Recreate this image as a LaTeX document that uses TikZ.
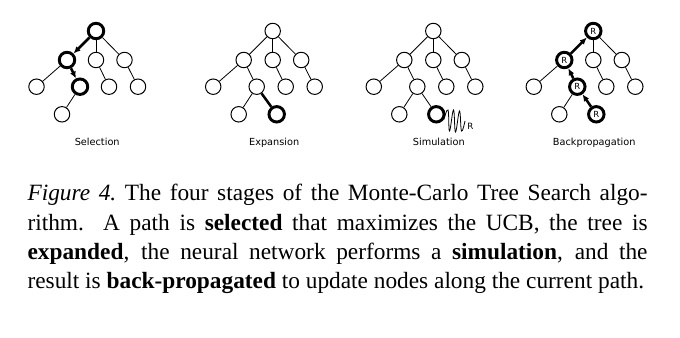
\documentclass[tikz,border=0pt]{standalone}
\usepackage{fontspec}
\setmainfont{Liberation Serif}
\newfontfamily\lblfont{DejaVu Sans}
\usetikzlibrary{arrows.meta}
\begin{document}
\begin{tikzpicture}[x=0.75pt,y=-0.75pt,
  tn/.style={circle,draw,line width=0.75pt,minimum size=11.6pt,inner sep=0pt,font=\lblfont\fontsize{6.3}{6.3}\selectfont},
  tk/.style={tn,line width=2.2pt},
  te/.style={line width=0.6pt},
  tke/.style={line width=1.9pt},
  tka/.style={tke,-{Latex[length=5.2pt,width=4.6pt]}},
  lbl/.style={font=\lblfont\fontsize{7.3}{8}\selectfont,anchor=base,inner sep=0pt},
  capl/.style={anchor=base west,inner sep=0pt,font=\fontsize{17.5}{21}\selectfont}
]
\useasboundingbox (0,0) rectangle (680,338);

% ---------- Selection ----------
\begin{scope}[shift={(96,0)}]
\node[tk] (s1r) at (0,31) {};
\node[tk] (s1a) at (-29,60) {};
\node[tn] (s1b) at (0,60) {};
\node[tn] (s1c) at (28.5,60) {};
\node[tn] (s1a1) at (-59.5,86.7) {};
\node[tk] (s1a2) at (-16,86.7) {};
\node[tn] (s1b1) at (13,86.7) {};
\node[tn] (s1c1) at (42,86.7) {};
\node[tn] (s1a2a) at (-34,114.3) {};
\end{scope}
\draw[tka] (s1r) -- (s1a);
\draw[te] (s1r) -- (s1b);
\draw[te] (s1r) -- (s1c);
\draw[te] (s1a) -- (s1a1);
\draw[tka] (s1a) -- (s1a2);
\draw[te] (s1b) -- (s1b1);
\draw[te] (s1c) -- (s1c1);
\draw[te] (s1a2) -- (s1a2a);
\node[lbl] (l1) at (97.2,146) {Selection};

% ---------- Expansion ----------
\begin{scope}[shift={(272.7,0)}]
\node[tn] (s2r) at (0,31) {};
\node[tn] (s2a) at (-29,60) {};
\node[tn] (s2b) at (0,60) {};
\node[tn] (s2c) at (28.5,60) {};
\node[tn] (s2a1) at (-59.5,86.7) {};
\node[tn] (s2a2) at (-16,86.7) {};
\node[tn] (s2b1) at (13,86.7) {};
\node[tn] (s2c1) at (42,86.7) {};
\node[tn] (s2a2a) at (-34,114.3) {};
\node[tk] (s2a2b) at (4,114.3) {};
\end{scope}
\draw[te] (s2r) -- (s2a);
\draw[te] (s2r) -- (s2b);
\draw[te] (s2r) -- (s2c);
\draw[te] (s2a) -- (s2a1);
\draw[te] (s2a) -- (s2a2);
\draw[te] (s2b) -- (s2b1);
\draw[te] (s2c) -- (s2c1);
\draw[te] (s2a2) -- (s2a2a);
\draw[tke] (s2a2) -- (s2a2b);
\node[lbl] (l2) at (274.2,146) {Expansion};

% ---------- Simulation ----------
\begin{scope}[shift={(433.3,0)}]
\node[tn] (s3r) at (0,31) {};
\node[tn] (s3a) at (-29,60) {};
\node[tn] (s3b) at (0,60) {};
\node[tn] (s3c) at (28.5,60) {};
\node[tn] (s3a1) at (-59.5,86.7) {};
\node[tn] (s3a2) at (-16,86.7) {};
\node[tn] (s3b1) at (13,86.7) {};
\node[tn] (s3c1) at (42,86.7) {};
\node[tn] (s3a2a) at (-34,114.3) {};
\node[tk] (s3a2b) at (3,114.3) {};
\end{scope}
\draw[te] (s3r) -- (s3a);
\draw[te] (s3r) -- (s3b);
\draw[te] (s3r) -- (s3c);
\draw[te] (s3a) -- (s3a1);
\draw[te] (s3a) -- (s3a2);
\draw[te] (s3b) -- (s3b1);
\draw[te] (s3c) -- (s3c1);
\draw[te] (s3a2) -- (s3a2a);
\draw[te] (s3a2) -- (s3a2b);
\draw[te] plot[smooth,tension=0.7] coordinates {(s3a2b.-35) (448,110) (449.5,131) (453.5,110) (455.5,132) (459.5,111) (461.5,131) (465,121)};
\node[font=\lblfont\fontsize{6.5}{7}\selectfont,inner sep=0pt] (sr) at (470.5,126) {R};
\node[lbl] (l3) at (438.8,146) {Simulation};

% ---------- Backpropagation ----------
\begin{scope}[shift={(593.3,0)}]
\node[tk] (s4r) at (0,31) {R};
\node[tk] (s4a) at (-29,60) {R};
\node[tn] (s4b) at (0,60) {};
\node[tn] (s4c) at (28.5,60) {};
\node[tn] (s4a1) at (-59.5,86.7) {};
\node[tk] (s4a2) at (-16,86.7) {R};
\node[tn] (s4b1) at (13,86.7) {};
\node[tn] (s4c1) at (42,86.7) {};
\node[tn] (s4a2a) at (-34,114.3) {};
\node[tk] (s4a2b) at (3,114.3) {R};
\end{scope}
\draw[tka] (s4a) -- (s4r);
\draw[te] (s4r) -- (s4b);
\draw[te] (s4r) -- (s4c);
\draw[te] (s4a) -- (s4a1);
\draw[tka] (s4a2) -- (s4a);
\draw[te] (s4b) -- (s4b1);
\draw[te] (s4c) -- (s4c1);
\draw[te] (s4a2) -- (s4a2a);
\draw[tka] (s4a2b) -- (s4a2);
\node[lbl] (l4) at (594.2,146) {Backpropagation};

% ---------- Caption ----------
\node[capl] (cap1) at (27.3,200.7) {\makebox[465pt][s]{\textit{Figure 4.}\ The four stages of the Monte-Carlo Tree Search algo-}};
\node[capl] (cap2) at (27.3,230) {\makebox[465pt][s]{rithm.  A path is \textbf{selected} that maximizes the UCB, the tree is}};
\node[capl] (cap3) at (27.3,259.2) {\makebox[465pt][s]{\textbf{expanded}, the neural network performs a \textbf{simulation}, and the}};
\node[capl] (cap4) at (27.3,288.3) {result is \textbf{back-propagated} to update nodes along the current path.};
\end{tikzpicture}
\end{document}
